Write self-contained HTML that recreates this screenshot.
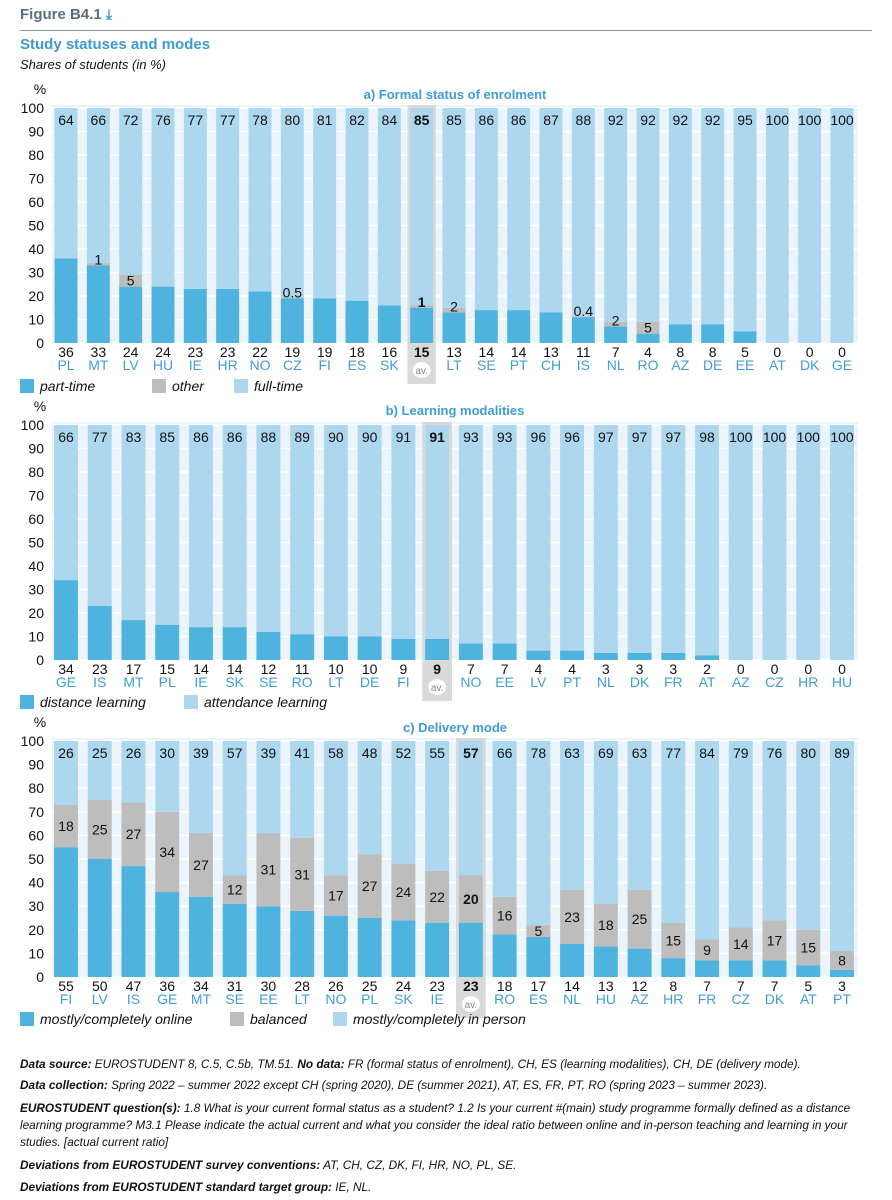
<!DOCTYPE html>
<html><head><meta charset="utf-8">
<style>
body{margin:0;background:#fff;}
#wrap{position:relative;width:892px;height:1200px;font-family:"Liberation Sans",sans-serif;color:#111;overflow:hidden;}
.ft{position:absolute;left:20px;width:835px;font-size:11.8px;font-style:italic;line-height:17px;}
.ft b{font-style:italic;}
</style></head>
<body>
<div id="wrap">
<div style="position:absolute;left:20px;top:6px;font-size:15px;font-weight:bold;color:#5b6e7c;">Figure B4.1 <span style="color:#3c9bd6;font-size:14px;">⤓</span></div>
<div style="position:absolute;left:20px;top:30px;width:852px;height:1px;background:#8a969e;"></div>
<div style="position:absolute;left:20px;top:36px;font-size:15px;font-weight:bold;color:#3c9bd6;">Study statuses and modes</div>
<div style="position:absolute;left:20px;top:57px;font-size:13px;font-style:italic;">Shares of students (in %)</div>
<svg id="chart" width="892" height="1200" style="position:absolute;left:0;top:0;"></svg>
<div class="ft" style="top:1056px;"><b>Data source:</b> EUROSTUDENT 8, C.5, C.5b, TM.51. <b>No data:</b> FR (formal status of enrolment), CH, ES (learning modalities), CH, DE (delivery mode).</div>
<div class="ft" style="top:1077px;"><b>Data collection:</b> Spring 2022 – summer 2022 except CH (spring 2020), DE (summer 2021), AT, ES, FR, PT, RO (spring 2023 – summer 2023).</div>
<div class="ft" style="top:1100px;"><b>EUROSTUDENT question(s):</b> 1.8 What is your current formal status as a student? 1.2 Is your current #(main) study programme formally defined as a distance learning programme? M3.1 Please indicate the actual current and what you consider the ideal ratio between online and in-person teaching and learning in your studies. [actual current ratio]</div>
<div class="ft" style="top:1157px;"><b>Deviations from EUROSTUDENT survey conventions:</b> AT, CH, CZ, DK, FI, HR, NO, PL, SE.</div>
<div class="ft" style="top:1179px;"><b>Deviations from EUROSTUDENT standard target group:</b> IE, NL.</div>
</div>
<script>
// Panel a
const catsA=["PL","MT","LV","HU","IE","HR","NO","CZ","FI","ES","SK","av","LT","SE","PT","CH","IS","NL","RO","AZ","DE","EE","AT","DK","GE"];
const partA=[36,33,24,24,23,23,22,19,19,18,16,15,13,14,14,13,11,7,4,8,8,5,0,0,0];
const otherA=[0,1,5,0,0,0,0,0.5,0,0,0,1,2,0,0,0,0.4,2,5,0,0,0,0,0,0];
const fullA=[64,66,72,76,77,77,78,80,81,82,84,85,85,86,86,87,88,92,92,92,92,95,100,100,100];
// Panel b
const catsB=["GE","IS","MT","PL","IE","SK","SE","RO","LT","DE","FI","av","NO","EE","LV","PT","NL","DK","FR","AT","AZ","CZ","HR","HU"];
const distB=[34,23,17,15,14,14,12,11,10,10,9,9,7,7,4,4,3,3,3,2,0,0,0,0];
const attB=[66,77,83,85,86,86,88,89,90,90,91,91,93,93,96,96,97,97,97,98,100,100,100,100];
// Panel c
const catsC=["FI","LV","IS","GE","MT","SE","EE","LT","NO","PL","SK","IE","av","RO","ES","NL","HU","AZ","HR","FR","CZ","DK","AT","PT"];
const onlC=[55,50,47,36,34,31,30,28,26,25,24,23,23,18,17,14,13,12,8,7,7,7,5,3];
const balC=[18,25,27,34,27,12,31,31,17,27,24,22,20,16,5,23,18,25,15,9,14,17,15,8];
const persC=[26,25,26,30,39,57,39,41,58,48,52,55,57,66,78,63,69,63,77,84,79,76,80,89];
const yTicks=[0,10,20,30,40,50,60,70,80,90,100];

const NS="http://www.w3.org/2000/svg";
const svg=document.getElementById('chart');
const C1="#4fb3df",C2="#bdbdbd",C3="#acd7ee",BG="#ebf4fa",CT="#3f9dd6";
function el(tag,attrs,parent){const e=document.createElementNS(NS,tag);for(const k in attrs)e.setAttribute(k,attrs[k]);(parent||svg).appendChild(e);return e;}
function txt(x,y,s,o,parent){const t=el('text',Object.assign({x:x,y:y,'font-size':14,'font-family':'"Liberation Sans",sans-serif','text-anchor':'middle',fill:'#111'},o||{}),parent);t.textContent=s;return t;}

function panel(name,title,titleY,y0,y100,cats,series,colors,labelMode,legend,legendY){
  const g=el('g',{});
  
  
  const x0=52,x1=858,n=cats.length;
  const first=66,last=842,pitch=(last-first)/(n-1),bw=pitch*0.71;
  const X=i=>first+i*pitch;
  const Y=v=>y0-(v/100)*(y0-y100);
  const t=txt(455,titleY,title,{'font-weight':'bold',fill:CT,'font-size':13},g);
  
  
  const pc=txt(40,y100-14,'%',{},g);
  
  
  const bg=el('rect',{x:x0,y:y100-3,width:x1-x0,height:y0-y100+3,fill:BG},g);
  
  
  yTicks.forEach(v=>{
    const l=el('line',{x1:x0,x2:x1,y1:Y(v),y2:Y(v),stroke:'#fff','stroke-width':1.5},g);
    
    
    const tl=txt(44,Y(v)+5,String(v),{'text-anchor':'end'},g);
    
    
  });
  cats.forEach((c,i)=>{
    const av=c==='av';
    if(av){
      const h=el('rect',{x:X(i)-pitch/2+2,y:y100-3,width:pitch-4,height:y0-y100+44,fill:'#d9d9d9'},g);
      
      
    }
    let cum=0;
    series.forEach((s,k)=>{
      const v=(k===series.length-1)?(100-cum):s[i];
      if(v>0){
        const r=el('rect',{x:X(i)-bw/2,y:Y(cum+v),width:bw,height:Y(cum)-Y(cum+v),fill:colors[k]},g);
        
        
      }
      cum+=v;
    });
    const fw=av?'bold':'normal';
    const top=txt(X(i),y100+17,String(series[series.length-1][i]),{'font-weight':fw},g);
    
    
    if(series.length===3){
      const m=series[1][i];
      if(labelMode==='a'&&m>0){
        const ml=txt(X(i),Y(series[0][i])-1,String(m),{'font-weight':fw},g);
        
        
      }
      if(labelMode==='c'){
        const ml=txt(X(i),(Y(series[0][i])+Y(series[0][i]+m))/2+5,String(m),{'font-weight':fw},g);
        
        
      }
    }
    const bl=txt(X(i),y0+14,String(series[0][i]),{'font-weight':fw},g);
    
    
    if(av){
      const e=el('ellipse',{cx:X(i),cy:y0+27,rx:9,ry:8,fill:'#fff'},g);
      
      
      const a=txt(X(i),y0+31,'av.',{'font-size':10,fill:'#888'},g);
      
      
    }else{
      const cl=txt(X(i),y0+27,c,{fill:CT},g);
      
      
    }
  });
  legend.forEach(([lx,label,col])=>{
    const sq=el('rect',{x:lx,y:legendY-7,width:14,height:14,fill:col},g);
    
    
    const lt=txt(lx+20,legendY+5,label,{'text-anchor':'start','font-style':'italic'},g);
    
    
  });
}
panel('panel-a-formal-status','a) Formal status of enrolment',99,343,108,catsA,[partA,otherA,fullA],[C1,C2,C3],'a',
  [[20,'part-time',C1],[152,'other',C2],[234,'full-time',C3]],386);
panel('panel-b-learning-modalities','b) Learning modalities',415,660,425,catsB,[distB,attB],[C1,C3],'b',
  [[20,'distance learning',C1],[184,'attendance learning',C3]],702);
panel('panel-c-delivery-mode','c) Delivery mode',732,977,741,catsC,[onlC,balC,persC],[C1,C2,C3],'c',
  [[20,'mostly/completely online',C1],[230,'balanced',C2],[333,'mostly/completely in person',C3]],1019);
</script>
</body></html>
